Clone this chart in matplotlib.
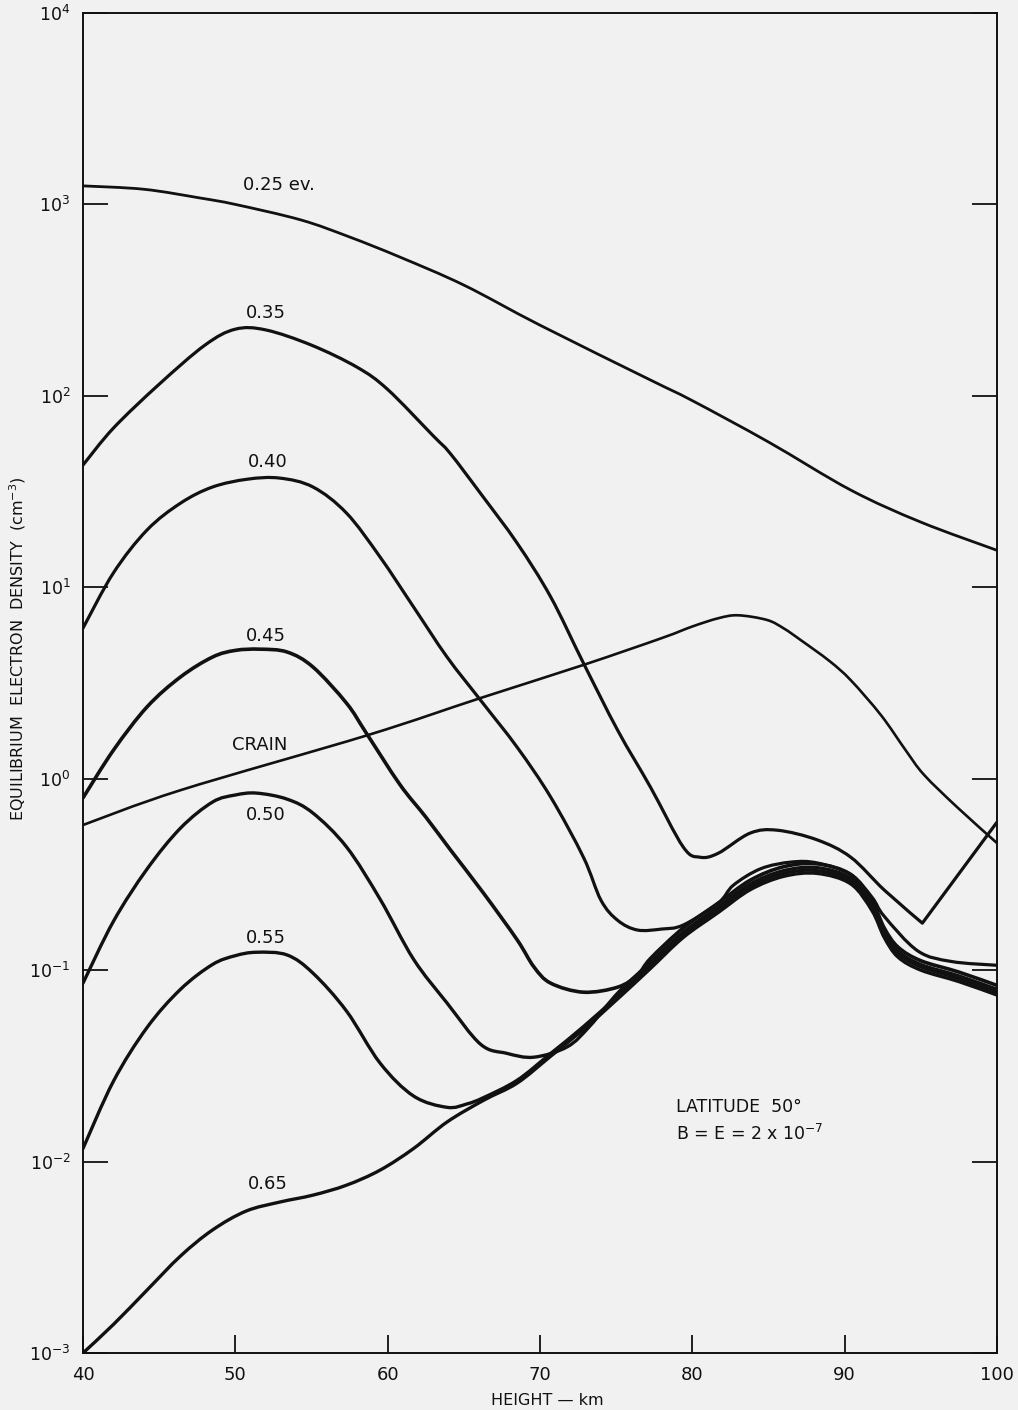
import matplotlib
matplotlib.use("Agg")
import numpy as np
import matplotlib.pyplot as plt
from matplotlib.ticker import NullLocator
from matplotlib.path import Path
from matplotlib.patches import PathPatch

plt.rcParams['font.family'] = ['DejaVu Sans']
plt.rcParams['mathtext.default'] = 'regular'

# ---------------- data ----------------
h_025 = [40, 44, 47.7, 50, 54.3, 57.5, 60.8, 65, 70, 77.25, 80, 85, 90.4, 95, 100]
n_025 = [1250, 1200, 1080, 1000, 830, 676, 531, 379, 234, 121, 94.4, 57.4, 32.2, 21.9, 15.6]

h_035 = [40, 42, 45, 48, 50, 52, 55, 58, 60, 63, 64.1, 66.1, 68.5, 70.7, 72.85, 75.1,
         77.25, 79.4, 80.5, 81.7, 83.8, 85.6, 88.2, 90.4, 92.6, 95.1, 100]
n_035 = [43.5, 67.9, 115, 184, 223, 221, 184, 141, 108, 61.7, 50.1, 30.9, 17.0, 8.91, 4.02, 1.79,
         0.904, 0.440, 0.389, 0.408, 0.520, 0.538, 0.479, 0.389, 0.262, 0.176, 0.593]

h_040 = [40, 42, 44.2, 46.4, 48.5, 50.8, 52.9, 55.1, 57.3, 59.5, 61.7, 63.9, 66.1, 68.5, 70.7,
         72.85, 74, 75.1, 76.4, 78, 79.4, 81.7, 82.7, 84.5, 86.5, 88.2, 90.4, 91.8, 92.6, 94.8, 97, 100]
n_040 = [6.12, 11.9, 19.9, 27.5, 33.4, 36.7, 37.2, 33.4, 24.4, 14.4, 7.89, 4.32, 2.57, 1.46, 0.802,
         0.389, 0.232, 0.182, 0.162, 0.164, 0.172, 0.224, 0.278, 0.339, 0.367, 0.363, 0.316, 0.240,
         0.191, 0.126, 0.111, 0.106]

h_045 = [40, 42, 44.2, 46.4, 48.5, 50, 51.6, 53.4, 55.1, 57.3, 58.6, 60.8, 62.5, 64.1, 66.3, 68.5,
         69.6, 70.7, 72.85, 75.1, 76.4, 77.25, 79.4, 81.7, 83.8, 86, 88.2, 90.4, 91.8, 92.6, 93.5,
         95, 97.5, 100]
n_045 = [0.794, 1.41, 2.37, 3.40, 4.32, 4.68, 4.75, 4.59, 3.83, 2.48, 1.73, 0.933, 0.631, 0.427,
         0.252, 0.144, 0.104, 0.0855, 0.0767, 0.0815, 0.0942, 0.115, 0.166, 0.224, 0.295, 0.347,
         0.359, 0.316, 0.229, 0.166, 0.132, 0.112, 0.0977, 0.0832]

h_050 = [40, 42, 44.2, 46.4, 48.5, 50, 51.4, 53.4, 55.1, 57.3, 59.5, 61.7, 63.9, 66.1, 67.8, 69.6,
         71.8, 73.3, 75.1, 77.25, 79.4, 81.7, 83.8, 86, 88.2, 90.4, 91.8, 92.6, 93.5, 95, 97.5, 100]
n_050 = [0.0855, 0.180, 0.337, 0.552, 0.755, 0.822, 0.841, 0.782, 0.661, 0.440, 0.235, 0.114,
         0.0673, 0.0410, 0.0368, 0.0351, 0.0398, 0.0513, 0.0759, 0.110, 0.158, 0.214, 0.282, 0.331,
         0.343, 0.302, 0.219, 0.158, 0.126, 0.107, 0.0933, 0.0794]

h_055 = [40, 42, 44.2, 46.4, 48.5, 50, 51.4, 53.4, 55.1, 57.3, 59.5, 61.7, 63.9, 65.2, 66.3, 68.5,
         70.7, 72.85, 75.1, 77.25, 79.4, 81.7, 83.8, 86, 88.2, 90.4, 91.8, 92.6, 93.5, 95, 97.5, 100]
n_055 = [0.0117, 0.0263, 0.0501, 0.0794, 0.107, 0.119, 0.124, 0.120, 0.0964, 0.0611, 0.0327, 0.0220,
         0.0192, 0.0200, 0.0216, 0.0266, 0.0367, 0.0507, 0.0733, 0.106, 0.153, 0.207, 0.272, 0.320,
         0.331, 0.292, 0.211, 0.153, 0.122, 0.104, 0.0902, 0.0767]

h_065 = [40, 42, 44.2, 46.4, 48.5, 50.7, 52.9, 55.1, 57.3, 59.5, 61.7, 63.9, 66.3, 68.5, 70.7, 72.85,
         75.1, 77.25, 79.4, 81.7, 83.8, 86, 88.2, 90.4, 91.8, 92.6, 93.5, 95, 97.5, 100]
n_065 = [0.00100, 0.00141, 0.00213, 0.00321, 0.00439, 0.00551, 0.00614, 0.00668, 0.00753, 0.00902,
         0.0117, 0.0161, 0.0209, 0.0257, 0.0355, 0.0490, 0.0708, 0.102, 0.148, 0.200, 0.263, 0.309,
         0.320, 0.282, 0.204, 0.148, 0.117, 0.100, 0.0871, 0.0741]

h_crain = [40, 46.4, 58.7, 66.1, 72.85, 78, 80, 81.7, 83, 84.9, 86, 87.1, 89, 90.4, 92.4, 94,
           95.2, 97.4, 100]
n_crain = [0.573, 0.871, 1.69, 2.64, 3.93, 5.43, 6.24, 6.89, 7.14, 6.75, 6.10, 5.31, 4.12, 3.27,
           2.14, 1.41, 1.05, 0.708, 0.461]

curve_labels = ["0.25 ev.", "0.35", "0.40", "0.45", "0.50", "0.55", "0.65", "CRAIN"]
label_h = [50.5, 52.0, 52.15, 52.0, 52.0, 52.0, 52.1, 51.6]
label_n = [1262, 271, 45.1, 5.56, 0.645, 0.147, 0.00762, 1.50]

x_ticks = [40, 50, 60, 70, 80, 90, 100]
y_exps = [-3, -2, -1, 0, 1, 2, 3, 4]

# ---------------- helpers ----------------
def smooth_path(hh, nn, corners=()):
    """Smooth (Catmull-Rom as cubic Bezier) path through the read points, in log-y space."""
    x = np.asarray(hh, float)
    y = np.log10(np.asarray(nn, float))
    m = len(x)
    verts = [(x[0], y[0])]
    codes = [Path.MOVETO]
    for i in range(m - 1):
        a = i - 1 if i > 0 else i
        d = i + 2 if i + 2 < m else i + 1
        if i in corners:
            c1 = (x[i], y[i])
        else:
            c1 = (x[i] + (x[i + 1] - x[a]) / 6.0, y[i] + (y[i + 1] - y[a]) / 6.0)
        if (i + 1) in corners:
            c2 = (x[i + 1], y[i + 1])
        else:
            c2 = (x[i + 1] - (x[d] - x[i]) / 6.0, y[i + 1] - (y[d] - y[i]) / 6.0)
        verts += [c1, c2, (x[i + 1], y[i + 1])]
        codes += [Path.CURVE4] * 3
    verts = [(vx, 10.0 ** vy) for vx, vy in verts]
    return Path(verts, codes)

# ---------------- figure ----------------
bg = '#f1f1f1'
ink = '#111111'
fig = plt.figure(figsize=(10.18, 14.10), dpi=100, facecolor=bg)
ax = fig.add_axes([83 / 1018, 57 / 1410, 914 / 1018, 1340 / 1410], facecolor=bg)

ax.set_yscale('log')
ax.set_xlim(40, 100)
ax.set_ylim(1e-3, 1e4)

series = [(h_025, n_025, 2.0, ()), (h_035, n_035, 2.3, (25,)), (h_040, n_040, 2.3, ()),
          (h_045, n_045, 2.6, ()), (h_050, n_050, 2.4, ()), (h_055, n_055, 2.4, ()),
          (h_065, n_065, 2.4, ()), (h_crain, n_crain, 1.9, ())]
for hh, nn, lw, cr in series:
    p = PathPatch(smooth_path(hh, nn, cr), facecolor='none', edgecolor=ink, lw=lw,
                  joinstyle='round', capstyle='round', clip_on=True)
    ax.add_patch(p)

ax.set_xticks(x_ticks)
ax.set_xticklabels([str(t) for t in x_ticks])
ax.set_yticks([10.0 ** e for e in y_exps])
ax.set_yticklabels([r'$\mathregular{10^{%d}}$' % e for e in y_exps])
ax.yaxis.set_minor_locator(NullLocator())
ax.xaxis.set_minor_locator(NullLocator())

ax.tick_params(axis='x', direction='in', length=13, width=1.3, labelsize=13, pad=9, colors=ink)
ax.tick_params(axis='y', direction='in', length=18, width=1.3, labelsize=12.5, pad=9,
               left=True, right=True, colors=ink)
for sp in ax.spines.values():
    sp.set_linewidth(1.4)
    sp.set_color(ink)

ax.set_xlabel('HEIGHT \u2014 km', fontsize=11.5, color=ink)
ax.xaxis.set_label_coords(0.508, -0.030)
ax.set_ylabel(r'EQUILIBRIUM  ELECTRON  DENSITY  (cm$^{-3}$)', fontsize=11.5, color=ink)
ax.yaxis.set_label_coords(-0.060, 0.526)

for txt, lh, ln in zip(curve_labels, label_h, label_n):
    ha = 'left' if txt.startswith('0.25') else 'center'
    ax.text(lh, ln, txt, fontsize=13, ha=ha, va='center', color=ink)

ax.text(78.96, 0.0192, 'LATITUDE  50\u00b0', fontsize=12.5, ha='left', va='center', color=ink)
ax.text(78.96, 0.0140, r'B = E = 2 x 10$^{-7}$', fontsize=12.5, ha='left', va='center', color=ink)

fig.savefig('out.png', dpi=100, facecolor=bg)
